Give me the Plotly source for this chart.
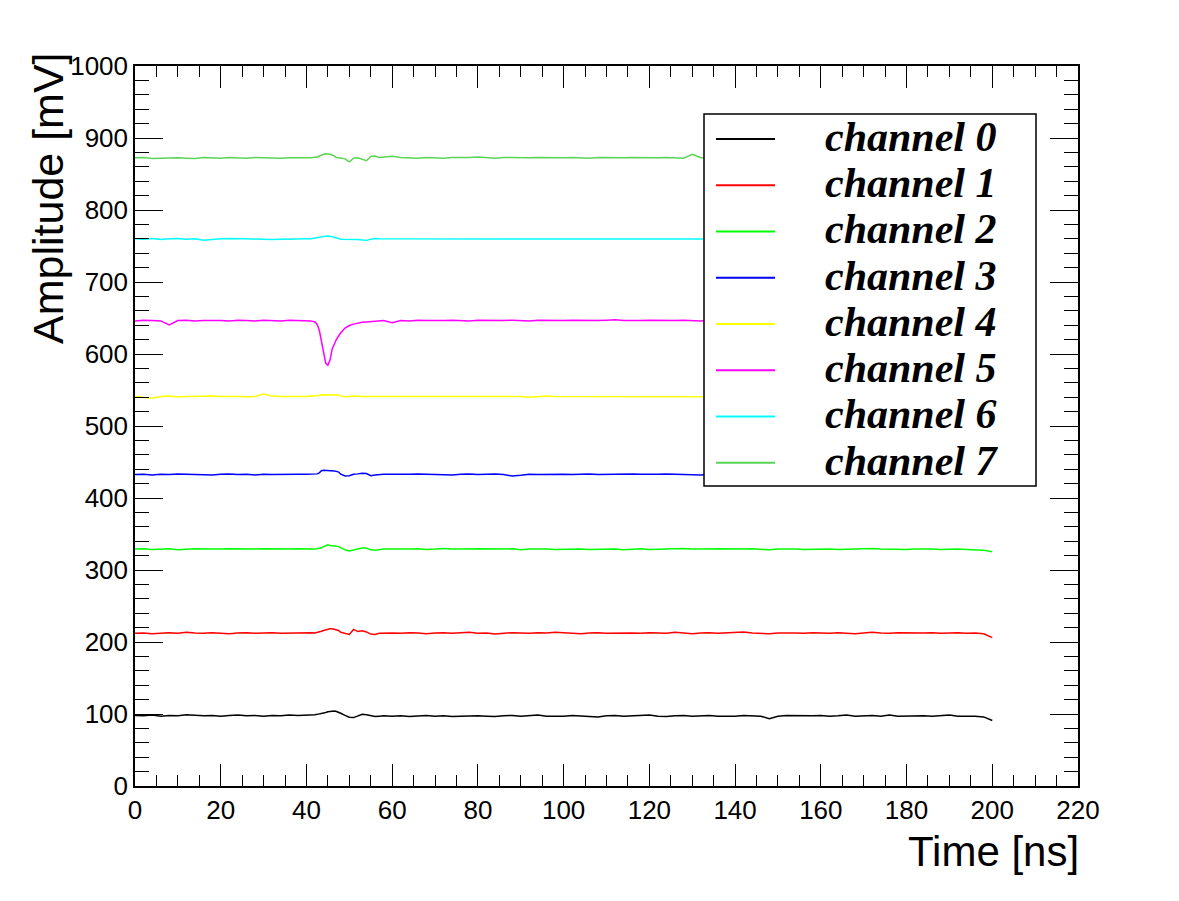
import plotly.graph_objects as go

# ---------------- data ----------------
TIME_NS = [0, 2, 4, 6, 8, 10, 12, 14, 16, 18, 20, 22, 24, 26, 28, 30, 32, 34, 36, 38,
           40, 41, 42, 42.5, 43, 43.5, 44, 44.5, 45, 45.5, 46, 46.5, 47, 47.5, 48, 49, 50,
           51, 52, 53, 54, 55, 56, 57, 58,
           60, 62, 64, 66, 68, 70, 72, 74, 76, 78, 80, 82, 84, 86, 88, 90, 92, 94, 96, 98,
           100, 102, 104, 106, 108, 110, 112, 114, 116, 118, 120, 122, 124, 126, 128, 130,
           132, 134, 136, 138, 140, 142, 144, 146, 148, 150, 152, 154, 156, 158, 160, 162,
           164, 166, 168, 170, 172, 174, 176, 178, 180, 182, 184, 186, 188, 190, 192, 194,
           196, 198, 200]

CHANNEL_NAMES = ["channel 0", "channel 1", "channel 2", "channel 3",
                 "channel 4", "channel 5", "channel 6", "channel 7"]

ch0 = [98, 97.5, 98.5, 97, 98, 97.5, 99, 98, 97.5, 98,
       97, 98, 98.5, 97.5, 98, 97, 98, 97.5, 98.5, 98,
       98, 98.5, 99, 99.5, 100, 100, 101, 102, 103, 103.5,
       104, 104, 103.5, 102.5, 101, 98, 95.5, 95, 97, 99.5,
       99, 97.5, 96.5, 97, 97.5,
       97, 97.5, 96.5, 97, 98, 97, 97.5, 96.5, 97, 98,
       97.5, 97, 96.5, 97.5, 98, 97, 97.5, 98.5, 97, 96.5,
       97, 98, 97.5, 97, 96, 97.5, 98, 97, 97.5, 98,
       98.5, 97, 96.5, 97.5, 98, 97, 97.5, 98, 97, 96.5,
       97, 98, 97.5, 97, 93.5, 97, 98, 97.5, 97, 97.5,
       98, 97, 97.5, 98.5, 97, 97.5, 98, 97, 98.5, 97,
       97.5, 98, 97.5, 97, 98, 98.5, 97, 97.5, 97, 96,
       91]

ch1 = [212, 212.5, 211.5, 212.5, 213, 212, 213.5, 212.5, 212, 213,
       212.5, 211.5, 212.5, 213, 212, 212.5, 213, 212, 212.5, 213,
       212.5, 213, 212.5, 213, 213.5, 215, 216, 217, 217.5, 218.5,
       218.5, 218, 217, 216, 213.5, 211.5, 210.5, 217.5, 214.5, 215.5,
       214, 211, 210.5, 212, 212.5,
       212.5, 212, 213, 212.5, 211.5, 212.5, 213, 212, 212.5, 213.5,
       212, 212.5, 211, 212.5, 213, 212.5, 212, 213, 212.5, 213.5,
       212.5, 212, 211.5, 212.5, 213, 212, 212.5, 213, 212.5, 212,
       213, 212.5, 212, 213.5, 212.5, 211.5, 212.5, 213, 212, 212.5,
       213, 214, 212.5, 212, 211.5, 212.5, 213, 212.5, 212, 213,
       212.5, 212, 213, 212.5, 211.5, 212.5, 213.5, 212.5, 212, 213,
       212.5, 212, 212.5, 213, 212, 212.5, 213, 212, 212.5, 211.5,
       206]

ch2 = [329, 329.5, 328.5, 329, 329.5, 328, 329, 329.5, 329, 328.5,
       329, 329.5, 329, 328.5, 329, 329.5, 329, 328.5, 329, 329.5,
       329, 329.5, 329, 329.5, 330, 331, 332.5, 333.5, 335, 334,
       334, 333.5, 333, 332.5, 331, 328, 326.5, 328, 329, 330.5,
       330.5, 328, 327.5, 328.5, 329,
       329, 328.5, 329, 329.5, 328.5, 329, 330, 329, 328.5, 329,
       329.5, 329, 328.5, 329, 329.5, 328, 329, 329.5, 329, 328.5,
       329, 329.5, 329, 328.5, 329, 329.5, 329, 328, 329, 329.5,
       328.5, 329, 329.5, 329, 330, 329, 328.5, 329, 329.5, 329,
       328.5, 329, 329.5, 329, 328, 329, 329.5, 329, 328.5, 329,
       329.5, 329, 328.5, 329, 329.5, 329, 330, 329, 328.5, 328,
       328.5, 329, 329.5, 329, 328.5, 329, 329, 328.5, 328, 327.5,
       325.5]

ch3 = [432.5, 433, 432, 433, 432.5, 433.5, 433, 432.5, 433, 432,
       433, 433.5, 432.5, 433, 432, 433, 432.5, 433, 433.5, 433,
       433, 433.5, 433, 433.5, 435, 438, 438.5, 438.5, 438, 438,
       437.5, 437.5, 437, 436, 433, 430.5, 431, 433, 433.5, 434.5,
       434, 431, 432, 433, 433,
       433, 432.5, 433, 433.5, 433, 432.5, 433, 432, 433, 433.5,
       432.5, 433, 433.5, 432.5, 430.5, 431.5, 433, 432.5, 433, 433.5,
       433, 432.5, 433, 433.5, 432.5, 433, 432.5, 433, 433.5, 433,
       432.5, 433, 433.5, 433, 432.5, 433, 432, 433, 433.5, 433,
       432.5, 433, 433.5, 432.5, 433, 433.5, 433, 432.5, 433, 433.5,
       433, 432.5, 433, 432.5, 433, 433.5, 433, 432.5, 433, 433,
       432.5, 433, 433.5, 433, 432.5, 433, 433.5, 433, 432.5, 433,
       432.5]

ch4 = [541, 540, 538.5, 541, 541.5, 540.5, 541, 541.5, 541, 541.5,
       541, 541.5, 541, 540.5, 541, 544.5, 541.5, 541, 541.5, 541,
       541, 541.5, 541, 541.5, 542.5, 543.5, 543.5, 544, 543.5, 543.5,
       543.5, 543.5, 543.5, 543, 541.5, 540.5, 541, 541.5, 541.5, 541,
       541, 540.5, 541, 541, 541,
       541, 541.5, 541, 540.5, 541, 541.5, 541, 541, 540.5, 541,
       541.5, 541, 540.5, 541, 541.5, 541, 540, 541, 541.5, 541,
       541, 541.5, 540.5, 541, 541.5, 541, 540.5, 541, 541.5, 541,
       540.5, 541, 541.5, 541, 540.5, 541, 541.5, 541, 541, 540.5,
       541, 541.5, 541, 540.5, 541, 541.5, 541, 540.5, 541, 541.5,
       541, 540.5, 541, 541.5, 541, 541, 540.5, 541, 541.5, 541,
       540.5, 541, 541.5, 541, 540.5, 541, 541.5, 541, 540.5, 541,
       540.5]

ch5 = [646, 647, 646.5, 646, 640.5, 646.5, 647, 646, 646.5, 647,
       646.5, 646, 647, 646.5, 646, 647, 646.5, 646, 647, 646.5,
       646.5, 646, 644.5, 641, 633, 618, 598, 587, 584.5, 591.5,
       607, 615, 620.5, 625, 629.5, 636, 639.5, 641.5, 643, 644,
       644.5, 645, 646, 646, 646.5,
       643.5, 646.5, 646, 647, 646.5, 646, 646.5, 647, 646.5, 646,
       647, 646.5, 646, 646.5, 647, 646.5, 646, 647, 646.5, 646,
       646.5, 647, 646.5, 646, 646.5, 647, 647.5, 646.5, 646, 646.5,
       647, 646.5, 646, 646.5, 647, 646.5, 646, 647, 646.5, 646,
       646.5, 647, 646.5, 646, 646.5, 647, 646.5, 646, 646.5, 647,
       646.5, 646, 647, 646.5, 646, 646.5, 647, 646.5, 646, 646.5,
       647, 646.5, 646, 646.5, 647, 646.5, 646, 646.5, 647, 646.5,
       646]

ch6 = [760, 759.5, 760.5, 759, 760, 760.5, 759.5, 760, 758, 759.5,
       760, 760.5, 760, 760, 759, 759, 759, 759.5, 760, 760.5,
       760, 760, 760.5, 761, 762, 763, 763.5, 764, 764, 763.5,
       763, 762, 761, 760.5, 759.5, 759.5, 760, 760, 759, 758.5,
       757.5, 759.5, 760.5, 760, 760,
       760, 760.5, 760, 759.5, 760, 760.5, 760, 759.5, 760, 760.5,
       760, 759.5, 760, 760.5, 760, 760, 759.5, 760, 760.5, 760,
       759.5, 760, 760.5, 760, 759.5, 760, 760.5, 760, 760, 759.5,
       760, 760.5, 760, 759.5, 760, 760.5, 760, 759.5, 760, 760.5,
       760, 759.5, 760, 760.5, 760, 760, 759.5, 760, 760.5, 760,
       759.5, 760, 760.5, 760, 759.5, 760, 760.5, 760, 760, 759.5,
       760, 760.5, 760, 759.5, 760, 760.5, 760, 759.5, 760, 760,
       759.5]

ch7 = [872.5, 873, 871.5, 872, 873, 872.5, 872, 871.5, 873, 872.5,
       872, 873, 872.5, 872, 873, 872.5, 871.5, 872, 872.5, 873,
       872.5, 872.5, 873, 873.5, 875, 876.5, 877.5, 878, 878, 877.5,
       876.5, 874.5, 873, 872.5, 872, 871, 867, 872, 872.5, 871,
       868.5, 874.5, 875, 873, 873.5,
       874.5, 873, 872.5, 872, 873, 872.5, 872, 873, 872.5, 873,
       873.5, 872.5, 872, 873, 872.5, 872, 872.5, 873, 872.5, 872,
       872.5, 873, 872.5, 872, 873, 872.5, 872, 872.5, 873, 872.5,
       872, 872.5, 873, 872.5, 872, 877.5, 872.5, 872, 872.5, 873,
       872.5, 872, 872.5, 873, 872.5, 872, 873, 872.5, 872, 872.5,
       873, 872.5, 872, 872.5, 873, 872.5, 872, 872.5, 873, 872.5,
       872, 872.5, 873, 872.5, 872, 872.5, 873, 872.5, 872, 872.5,
       872]

CHANNEL_VALUES = [ch0, ch1, ch2, ch3, ch4, ch5, ch6, ch7]
CHANNEL_COLORS = ["#000000", "#ff0000", "#00ff00", "#0000ff",
                  "#ffff00", "#ff00ff", "#00ffff", "#59d454"]

for name, vals in zip(CHANNEL_NAMES, CHANNEL_VALUES):
    if len(vals) != len(TIME_NS):
        raise ValueError(f"{name}: {len(vals)} values vs {len(TIME_NS)} times")

X_TICKS = [0, 20, 40, 60, 80, 100, 120, 140, 160, 180, 200, 220]
Y_TICKS = [0, 100, 200, 300, 400, 500, 600, 700, 800, 900, 1000]

# ---------------- figure ----------------
fig = go.Figure()
for name, vals, col in zip(CHANNEL_NAMES, CHANNEL_VALUES, CHANNEL_COLORS):
    fig.add_trace(go.Scatter(x=TIME_NS, y=vals, mode="lines", name=name,
                             line=dict(color=col, width=1.5), showlegend=False))

# page body has an 8px margin, so the figure is sized to fit inside the window
W, H = 1163, 885
L, R, T, B = 127, 93, 58, 107
PW, PH = W - L - R, H - T - B          # 943 x 720
SCR_LEFT, SCR_BOTTOM = 135, 786        # plot-area edges in window pixels


def px(xp):
    return (xp - SCR_LEFT) / PW


def py(yp):
    return (SCR_BOTTOM - yp) / PH


fig.update_layout(
    width=W, height=H,
    margin=dict(l=L, r=R, t=T, b=B),
    plot_bgcolor="white", paper_bgcolor="white",
    font=dict(family="Liberation Sans", size=26, color="black"),
    showlegend=False,
)

axis_common = dict(showgrid=False, zeroline=False, showline=True, linecolor="black",
                   linewidth=1.5, mirror="ticks", ticks="inside", tickcolor="black",
                   tickwidth=1, tickfont=dict(family="Liberation Sans", size=26, color="black"))

fig.update_xaxes(range=[0, 220], tickmode="array", tickvals=X_TICKS,
                 ticktext=[str(v) for v in X_TICKS], ticklen=22, ticklabelstandoff=0,
                 minor=dict(dtick=5, tick0=0, ticklen=11, ticks="inside",
                            tickcolor="black", tickwidth=1, showgrid=False),
                 **axis_common)
fig.update_yaxes(range=[0, 1000], tickmode="array", tickvals=Y_TICKS,
                 ticktext=[str(v) for v in Y_TICKS], ticklen=28, ticklabelstandoff=0,
                 minor=dict(dtick=20, tick0=0, ticklen=14, ticks="inside",
                            tickcolor="black", tickwidth=1, showgrid=False),
                 **axis_common)

# axis titles (ROOT style: at the far ends of the axes)
fig.add_annotation(text="Time [ns]", xref="paper", yref="paper", x=px(1081), y=py(852),
                   xanchor="right", yanchor="middle", showarrow=False,
                   font=dict(family="Liberation Sans", size=42, color="black"))
fig.add_annotation(text="Amplitude [mV]", xref="paper", yref="paper", x=px(48), y=py(50),
                   xanchor="center", yanchor="top", textangle=-90, showarrow=False,
                   font=dict(family="Liberation Sans", size=43, color="black"))

# legend box (ROOT TLegend look)
fig.add_shape(type="rect", xref="paper", yref="paper",
              x0=px(704), x1=px(1036), y0=py(486), y1=py(114),
              fillcolor="white", line=dict(color="black", width=1.5), layer="above")
for i, (name, col) in enumerate(zip(CHANNEL_NAMES, CHANNEL_COLORS)):
    yc = 139 + i * 46.24
    fig.add_shape(type="line", xref="paper", yref="paper",
                  x0=px(716), x1=px(775), y0=py(yc), y1=py(yc),
                  line=dict(color=col, width=2), layer="above")
    fig.add_annotation(text=name, xref="paper", yref="paper", x=px(823), y=py(yc - 2),
                       xanchor="left", yanchor="middle", showarrow=False,
                       font=dict(family="Liberation Serif", size=42, color="black",
                                 weight="bold", style="italic"))

fig.write_html("out.html")
